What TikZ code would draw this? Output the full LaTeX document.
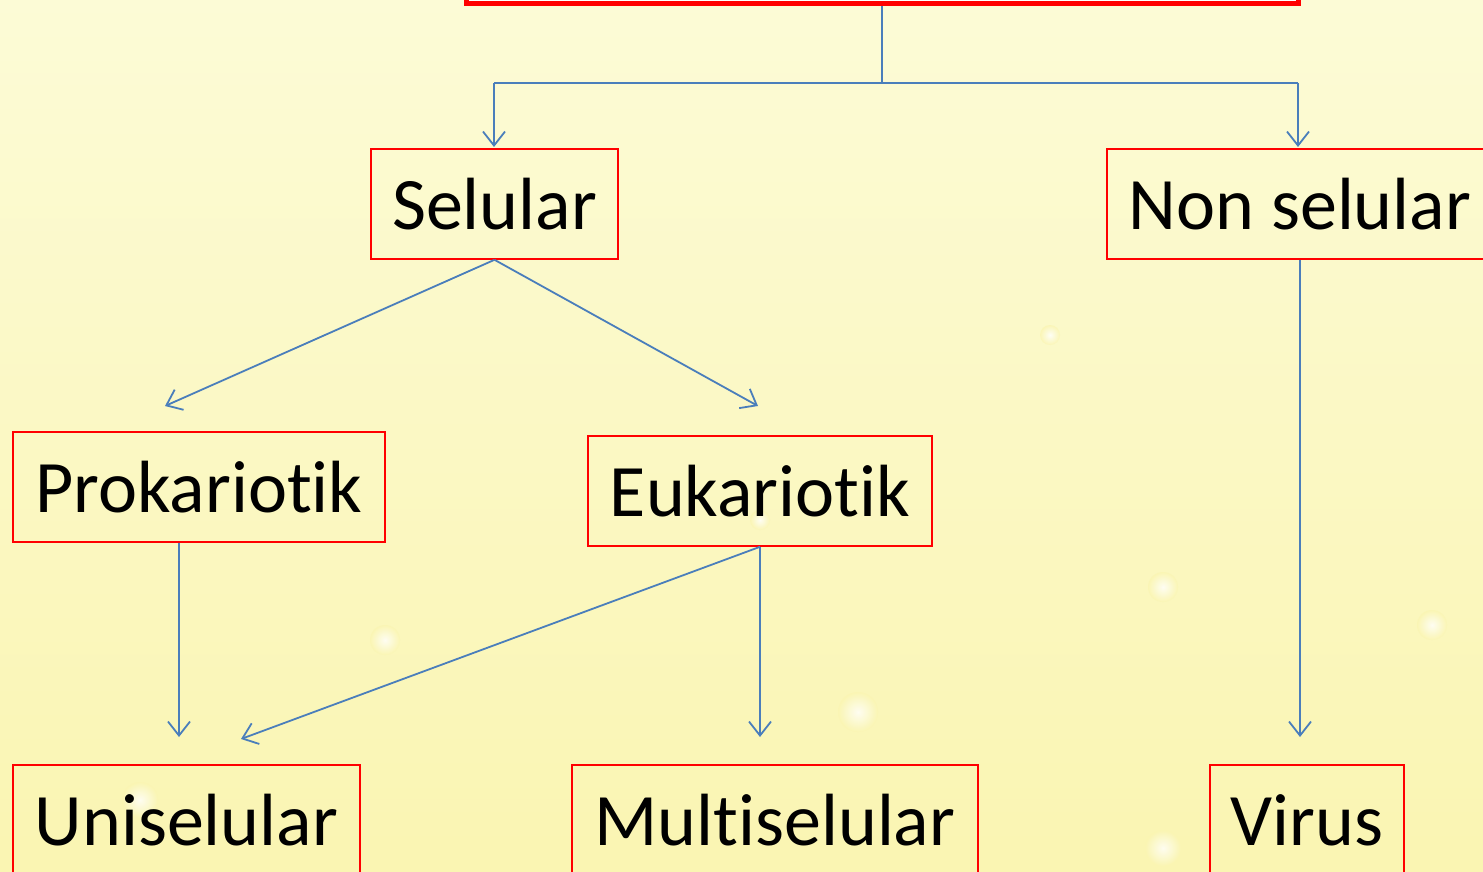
\documentclass[tikz,border=0pt]{standalone}
\usepackage{fontspec}
\setmainfont[Ligatures={NoCommon}]{Carlito}
\usetikzlibrary{arrows.meta}
\definecolor{bgtop}{RGB}{252,251,214}
\definecolor{bgbot}{RGB}{250,245,178}
\definecolor{conn}{RGB}{74,126,187}
\tikzset{
  box/.style={draw=red, line width=1.6pt, rectangle, inner sep=0pt, text=black,
    font=\fontsize{74}{88}\selectfont},
  link/.style={draw=conn, line width=1.8pt,
    -{Straight Barb[length=14pt,width=22pt,line width=1.8pt]}},
  plain/.style={draw=conn, line width=1.8pt},
  glow/.style={inner color=white, outer color=bgbot, opacity=0.8}
}
\begin{document}
\begin{tikzpicture}[x=1pt,y=-1pt]
\useasboundingbox (0,0) rectangle (1483,872);
\clip (0,0) rectangle (1483,872);
\shade[top color=bgtop, bottom color=bgbot] (0,0) rectangle (1483,872);
% soft background dots
\foreach \px/\py/\r in {385/640/15, 858/712/20, 1163/587/15, 1432/625/15, 1163/848/18, 140/800/18, 1050/335/10, 760/520/10}
  \shade[glow] (\px,\py) circle (\r);
% nodes
\node[box, draw=red, line width=5pt, fill=white, minimum width=832pt, minimum height=80pt, anchor=south] (top) at (882,6.5) {};
\node[box, minimum width=247pt, minimum height=110pt] (sel) at (494.5,204) {Selular};
\node[box, minimum width=386pt, minimum height=110pt] (non) at (1300,204) {Non selular};
\node[box, minimum width=372pt, minimum height=110pt] (pro) at (199,487) {Prokariotik};
\node[box, minimum width=344pt, minimum height=110pt] (euk) at (760,491) {Eukariotik};
\node[box, minimum width=347pt, minimum height=110pt] (uni) at (186.5,820) {Uniselular};
\node[box, minimum width=406pt, minimum height=110pt] (mul) at (775,820) {Multiselular};
\node[box, minimum width=194pt, minimum height=110pt] (vir) at (1307,820) {Virus};
% junction coordinates
\coordinate (j) at (882,83);
\coordinate (jl) at (494,83);
\coordinate (jr) at (1298,83);
\coordinate (tsel) at (494,147);
\coordinate (tnon) at (1298,147);
\coordinate (tpro) at (165,406);
\coordinate (teuk) at (758,406);
\coordinate (tuni1) at (179,737);
\coordinate (tuni2) at (241,739);
\coordinate (tmul) at (760,737);
\coordinate (tvir) at (1300,737);
% connectors
\draw[plain] (top.south) -- (j);
\draw[plain] (jl) -- (jr);
\draw[link] (jl) -- (tsel);
\draw[link] (jr) -- (tnon);
\draw[link] (sel.south) -- (tpro);
\draw[link] (sel.south) -- (teuk);
\draw[link] (pro.south -| tuni1) -- (tuni1);
\draw[link] (euk.south) -- (tuni2);
\draw[link] (euk.south) -- (tmul);
\draw[link] (non.south -| tvir) -- (tvir);
\end{tikzpicture}
\end{document}
